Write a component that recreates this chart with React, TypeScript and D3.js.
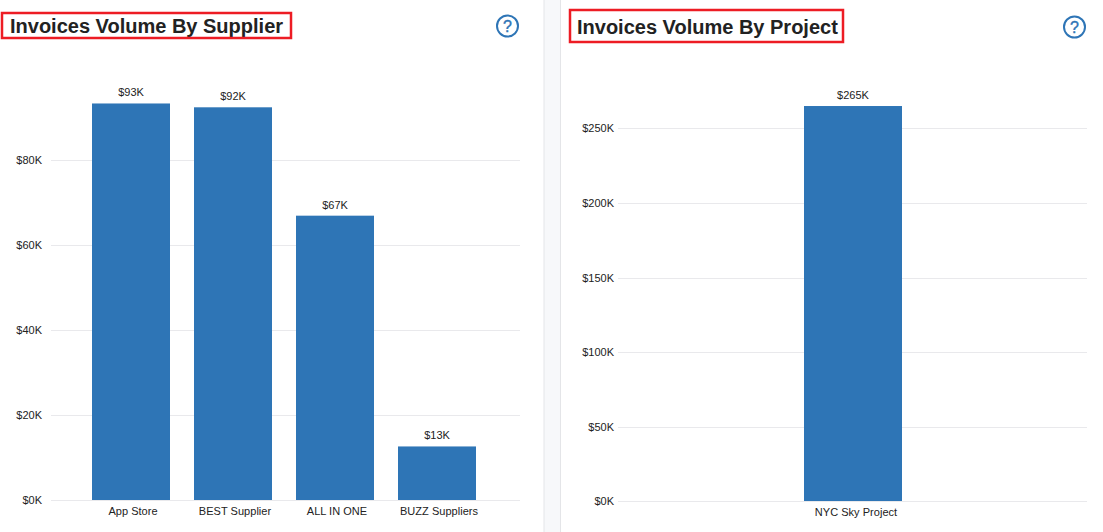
import React from "react";
import { scaleBand, scaleLinear } from "d3";

const width = 1103;
const height = 532;
const barColor = "#2e75b6";
const gridColor = "#e9e9ec";
const font = "'Liberation Sans', Arial, sans-serif";

const suppliers = ["App Store", "BEST Supplier", "ALL IN ONE", "BUZZ Suppliers"];
const supplierValues = [93, 92, 67, 13];
const supplierBarTops = [93.3, 92.4, 66.9, 12.6];
const supplierTicks = [0, 20, 40, 60, 80];

const projects = ["NYC Sky Project"];
const projectValues = [265];
const projectBarTops = [265];
const projectTicks = [0, 50, 100, 150, 200, 250];

const money = (d: number) => `$${d}K`;

type PanelProps = {
  title: string;
  cats: string[];
  labels: number[];
  tops: number[];
  ticks: number[];
  gridX: [number, number];
  tickEnd: number;
  band: [number, number];
  catShift: number;
  y0: number;
  pxPerK: number;
  inner: number;
  outer: number;
  titleX: number;
  titleY: number;
  box: [number, number, number, number];
  help: [number, number];
};

const Panel = (p: PanelProps) => {
  const x = scaleBand<string>().domain(p.cats).range(p.band).paddingInner(p.inner).paddingOuter(p.outer);
  const y = scaleLinear().domain([0, 100]).range([p.y0, p.y0 - 100 * p.pxPerK]);
  return (
    <g fontFamily={font}>
      <text x={p.titleX} y={p.titleY} fontSize={20} fontWeight={700} fill="#222">{p.title}</text>
      <rect x={p.box[0]} y={p.box[1]} width={p.box[2]} height={p.box[3]} fill="none" stroke="#ed1c24" strokeWidth={2.5} />
      <circle cx={p.help[0]} cy={p.help[1]} r={10.5} fill="none" stroke={barColor} strokeWidth={2} />
      <text x={p.help[0]} y={p.help[1] + 6} fontSize={16} textAnchor="middle" fill={barColor} stroke={barColor} strokeWidth={0.4}>?</text>
      {p.ticks.map(t => (
        <g key={t}>
          <line x1={p.gridX[0]} x2={p.gridX[1]} y1={Math.round(y(t)) + 0.5} y2={Math.round(y(t)) + 0.5} stroke={gridColor} />
          <text x={p.tickEnd} y={Math.round(y(t)) + 4} fontSize={11} textAnchor="end" fill="#222">{money(t)}</text>
        </g>
      ))}
      {p.cats.map((c, i) => (
        <g key={c}>
          <rect x={x(c)} y={y(p.tops[i])} width={x.bandwidth()} height={Math.round(y(0)) - y(p.tops[i])} fill={barColor} />
          <text x={x(c)! + x.bandwidth() / 2} y={y(p.tops[i]) - 7} fontSize={11} textAnchor="middle" fill="#222">{money(p.labels[i])}</text>
          <text x={x(c)! + x.bandwidth() / 2 + p.catShift} y={Math.round(y(0)) + 15} fontSize={11} letterSpacing={0.03} textAnchor="middle" fill="#222">{c}</text>
        </g>
      ))}
    </g>
  );
};

const App = () => (
  <svg width={width} height={height} style={{ position: "absolute", left: 0, top: 0, display: "block" }}>
    <rect width={width} height={height} fill="#fff" />
    <rect x={544} y={0} width={16} height={height} fill="#f7f8fa" />
    <line x1={544} x2={544} y1={0} y2={height} stroke="#e4e5e8" />
    <line x1={560.5} x2={560.5} y1={0} y2={height} stroke="#e4e5e8" />
    <Panel
      title="Invoices Volume By Supplier"
      cats={suppliers}
      labels={supplierValues}
      tops={supplierBarTops}
      ticks={supplierTicks}
      gridX={[51, 520]}
      tickEnd={42}
      band={[80, 488]}
      catShift={2}
      y0={500}
      pxPerK={4.25}
      inner={24 / 102}
      outer={12 / 102}
      titleX={10}
      titleY={33}
      box={[2, 13, 289, 25]}
      help={[507.5, 26]}
    />
    <Panel
      title="Invoices Volume By Project"
      cats={projects}
      labels={projectValues}
      tops={projectBarTops}
      ticks={projectTicks}
      gridX={[618, 1087]}
      tickEnd={614}
      band={[804, 902]}
      catShift={3}
      y0={501.4}
      pxPerK={1.492}
      inner={0}
      outer={0}
      titleX={577}
      titleY={34}
      box={[570, 10, 273, 32]}
      help={[1074.5, 27]}
    />
  </svg>
);

export default App;
